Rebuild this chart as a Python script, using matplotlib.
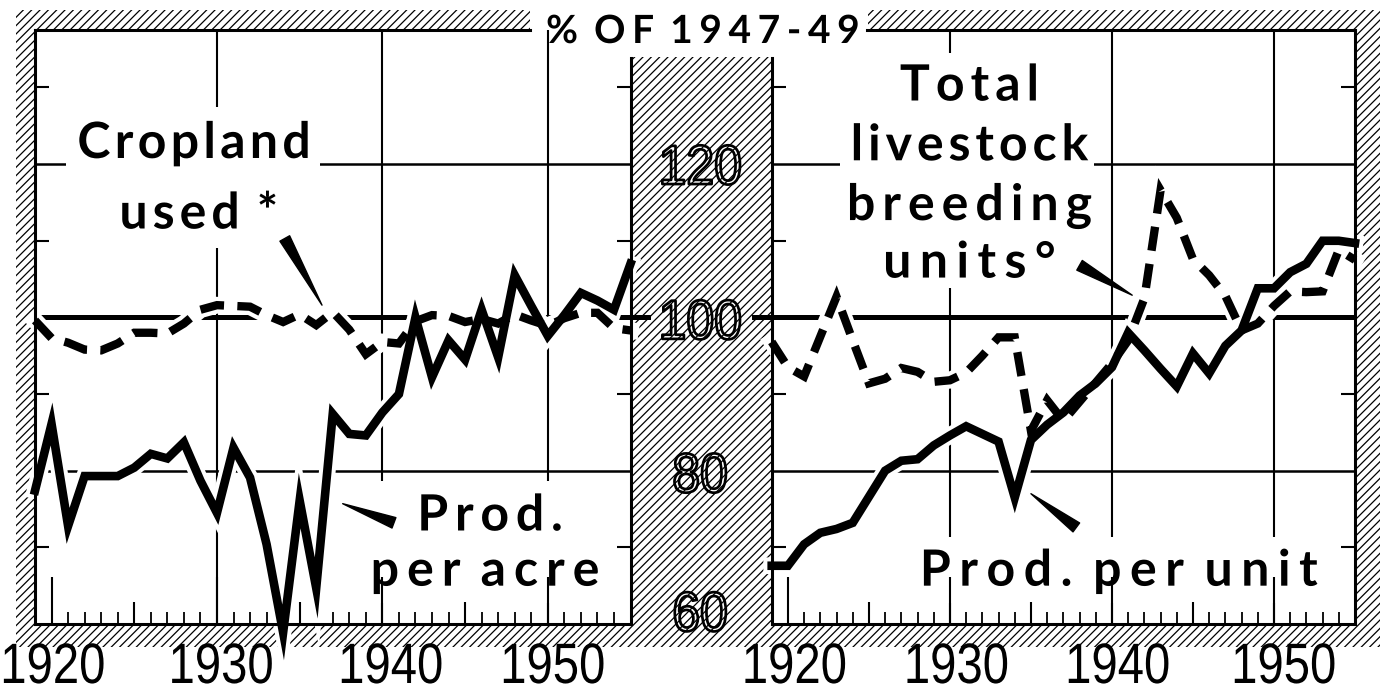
import matplotlib
matplotlib.use("Agg")
import matplotlib.pyplot as plt
import matplotlib.patheffects as pe
import numpy as np
from matplotlib import transforms
from matplotlib.patches import Rectangle
from matplotlib.path import Path

# --- data (% of 1947-49) ---
years = list(range(1919, 1956))
prod_per_acre = [77.4, 86.1, 72.8, 79.3, 79.3, 79.3, 80.4, 82.2, 81.6, 83.7,
                 78.7, 74.5, 83.0, 79.1, 70.4, 58.9, 76.1, 64.7, 87.4, 84.8,
                 84.6, 87.6, 90.0, 100.0, 92.2, 97.0, 94.5, 101.0, 94.8, 105.5,
                 101.5, 97.6, 100.3, 103.2, 102.2, 101.0, 107.0]
cropland_used = [99.6, 97.3, 96.7, 95.8, 95.7, 96.6, 98.0, 98.0, 97.9, 99.2,
                 101.0, 101.6, 101.5, 101.4, 100.3, 99.4, 100.4, 99.0, 100.7, 98.4,
                 95.2, 96.8, 96.6, 99.5, 100.3, 100.2, 99.4, 99.8, 99.2, 100.4,
                 99.6, 98.9, 99.9, 100.6, 100.6, 98.6, 98.3]
prod_per_unit = [67.6, 67.6, 70.4, 71.9, 72.4, 73.2, 76.6, 80.0, 81.3, 81.5,
                 83.3, 84.6, 85.8, 84.8, 83.8, 76.5, 84.0, 86.0, 87.6, 89.8,
                 91.4, 93.5, 98.0, 95.7, 93.3, 91.0, 95.3, 92.7, 96.3, 98.3,
                 103.8, 103.8, 105.9, 107.0, 110.0, 110.0, 109.7]
livestock_units = [96.8, 93.5, 92.3, 97.5, 102.7, 97.0, 91.4, 92.0, 93.4, 92.9,
                   91.6, 91.8, 92.8, 95.0, 97.4, 97.4, 85.2, 89.2, 86.5, 89.0,
                   91.5, 94.0, 97.0, 102.5, 116.6, 113.0, 107.6, 105.5, 102.8, 98.3,
                   99.2, 101.5, 103.4, 103.3, 103.4, 108.8, 107.5]

decade_labels = ["1920", "1930", "1940", "1950"]
decades = [1920, 1930, 1940, 1950]
half_decades = [1925, 1935, 1945]
scale_values = [120, 100, 80, 60]
minor_y = [70, 90, 110, 130]

plt.rcParams["hatch.color"] = "black"
plt.rcParams["hatch.linewidth"] = 0.9

NARROW = ["Liberation Sans", "DejaVu Sans"]
BOLD = ["Lato", "DejaVu Sans"]

W, H = 1382, 696
TOP, BOT = 30, 624
fig = plt.figure(figsize=(W / 100, H / 100), dpi=100)


class Spaced(pe.AbstractPathEffect):
    """Letter spacing / horizontal squeeze for text (track in em)."""

    def __init__(self, track=0.0, sx=1.0, anchor="center", outline=None):
        super().__init__()
        self.track, self.sx, self.anchor, self.outline = track * 100, sx, anchor, outline

    def draw_path(self, renderer, gc, tpath, affine, rgbFace=None):
        verts = np.array(tpath.vertices, dtype=float)
        codes = tpath.codes
        if codes is not None and len(verts):
            starts = list(np.flatnonzero(codes == Path.MOVETO)) + [len(codes)]
            spans = [(starts[i], starts[i + 1]) for i in range(len(starts) - 1)]
            ranges = []
            for a, b in spans:
                xs = verts[a:b][codes[a:b] != Path.CLOSEPOLY, 0]
                ranges.append((xs.min(), xs.max()))
            c0 = 0.0
            if self.anchor == "center":
                c0 = (min(r[0] for r in ranges) + max(r[1] for r in ranges)) / 2
            k, hi = -1, -np.inf
            shift = np.zeros(len(spans))
            for i in sorted(range(len(spans)), key=lambda j: ranges[j][0]):
                lo, h = ranges[i]
                if lo >= hi - 6:
                    k += 1
                    hi = h
                else:
                    hi = max(hi, h)
                shift[i] = k * self.track
            for i, (a, b) in enumerate(spans):
                verts[a:b, 0] += shift[i]
            if self.anchor == "center":
                verts[:, 0] -= k * self.track / 2
            verts[:, 0] = c0 + (verts[:, 0] - c0) * self.sx
            tpath = Path(verts, codes)
        if self.outline:
            gc0 = renderer.new_gc()
            gc0.copy_properties(gc)
            gc0.set_linewidth(renderer.points_to_pixels(self.outline))
            gc0.set_foreground("black")
            renderer.draw_path(gc0, tpath, affine, None)
            gc0.restore()
        else:
            renderer.draw_path(gc, tpath, affine, rgbFace)


def px_rect(x0, y0, x1, y1):
    return [x0 / W, 1 - y1 / H, (x1 - x0) / W, (y1 - y0) / H]


# hatched frame, drawn in pixel coordinates underneath the panels
bg = fig.add_axes([0, 0, 1, 1], zorder=0)
bg.set_xlim(0, W)
bg.set_ylim(H, 0)
bg.axis("off")
for x0, y0, x1, y1 in [(16, 10, 36, 647), (16, 10, 530, 31), (868, 10, 1380, 31),
                       (16, 623, 1380, 647), (629, 57, 773, 647), (1354, 10, 1380, 647)]:
    bg.add_patch(Rectangle((x0, y0), x1 - x0, y1 - y0, facecolor="white",
                           edgecolor="black", hatch="////", linewidth=0))


def panel(x0, x1, solid, dashed, top_from, side, label_x):
    ax = fig.add_axes(px_rect(x0, TOP, x1, BOT), zorder=1)
    ax.set_xlim(1919, 1955)
    ax.set_ylim(60, 137.5)
    for s in ax.spines.values():
        s.set_linewidth(2.2)
    ax.spines["top"].set_bounds(*top_from)
    ax.spines[side].set_bounds(60, 133.8)

    for v, lw in [(80, 1.8), (100, 3.6), (120, 1.8)]:
        ax.axhline(v, color="black", lw=lw, zorder=1)
    for d in decades[1:]:
        ax.axvline(d, color="black", lw=1.5, zorder=1)
    # short extension of the 100 line into the scale strip
    if side == "right":
        ax.axhline(100, xmin=1.0, xmax=1.03, color="black", lw=3.6, clip_on=False)
    else:
        ax.axhline(100, xmin=-0.03, xmax=0.0, color="black", lw=3.6, clip_on=False)

    ax.set_xticks(decades, [""] * len(decades))
    ax.set_xticks(years, minor=True)
    ax.set_yticks(minor_y)
    ax.tick_params(axis="x", which="major", direction="in", length=34, width=1.5)
    ax.tick_params(axis="x", which="minor", direction="in", length=8.5, width=1.3)
    ax.tick_params(axis="y", direction="in", length=10, width=1.5,
                   left=True, right=True, labelleft=False)
    ax.vlines(half_decades, 0, 0.037, transform=ax.get_xaxis_transform(),
              color="black", lw=1.5, zorder=1.5)

    # year labels, condensed
    lab_trans = transforms.blended_transform_factory(ax.transData, fig.transFigure)
    for (lx, ha), s in zip(label_x, decade_labels):
        ax.text(lx, 1 - 683 / H, s, transform=lab_trans, ha=ha, va="baseline",
                fontsize=41, family=NARROW, clip_on=False,
                path_effects=[Spaced(sx=0.83, anchor="left" if ha == "left" else "center")])

    for ys in (solid, dashed):
        ax.plot(years, ys, color="white", lw=12, solid_joinstyle="miter",
                zorder=2, clip_on=False)
    ax.plot(years, dashed, color="black", lw=6.0, linestyle=(0, (2.9, 1.6)),
            dash_capstyle="butt", dash_joinstyle="miter", zorder=3, clip_on=False)
    ax.plot(years, solid, color="black", lw=6.2, solid_joinstyle="miter",
            zorder=3.1, clip_on=False)
    return ax


ax1 = panel(35, 630.5, prod_per_acre, cropland_used, (1919, 1948.9), "right",
            [(1916.9, "left"), (1930.25, "center"), (1940.5, "center"), (1950.3, "center")])
ax2 = panel(771.7, 1355, prod_per_unit, livestock_units, (1924.9, 1955), "left",
            [(1920.4, "center"), (1930.4, "center"), (1940.35, "center"), (1950.6, "center")])


def mask(ax, x0, x1, y0, y1):
    ax.add_patch(Rectangle((x0, y0), x1 - x0, y1 - y0, facecolor="white",
                           edgecolor="none", zorder=1.2))


def label(ax, x, y, s, track):
    ax.text(x, y, s, ha="center", va="baseline", fontsize=36, fontweight="bold",
            family=BOLD, zorder=4, path_effects=[Spaced(track=track)])


mask(ax1, 1920.9, 1936.2, 109.0, 127.4)
label(ax1, 1928.6, 120.8, "Cropland", 0.086)
label(ax1, 1928.9, 111.6, "used *", 0.10)
mask(ax1, 1938.4, 1953.9, 62.7, 78.7)
label(ax1, 1946.5, 72.2, "Prod.", 0.135)
label(ax1, 1946.2, 65.0, "per acre", 0.16)

mask(ax2, 1923.2, 1938.9, 103.8, 134.5)
for yy, s, tr in [(128.3, "Total", 0.12), (120.5, "livestock", 0.098),
                  (112.7, "breeding", 0.14), (105.2, "units°", 0.168)]:
    label(ax2, 1931.2, yy, s, tr)
mask(ax2, 1927.2, 1953.2, 62.7, 71.3)
label(ax2, 1940.4, 65.0, "Prod. per unit", 0.17)

wedge = dict(arrowstyle="wedge,tail_width=0.4,shrink_factor=0.5", color="black",
             shrinkA=0, shrinkB=0, mutation_scale=20)
ax1.annotate("", xy=(1936.35, 101.6), xytext=(1934.1, 110.3), arrowprops=wedge, zorder=4)
ax1.annotate("", xy=(1937.6, 75.7), xytext=(1940.7, 73.2), arrowprops=wedge, zorder=4)
ax2.annotate("", xy=(1941.25, 102.9), xytext=(1938.0, 106.8), arrowprops=wedge, zorder=4)
ax2.annotate("", xy=(1935.0, 77.0), xytext=(1937.8, 72.6), arrowprops=wedge, zorder=4)

# hatched (outlined) scale numbers in the middle strip
strip = transforms.blended_transform_factory(fig.transFigure, ax1.transData)
baseline_shift = {120: -2.6, 100: -2.8, 80: -2.8, 60: -0.9}
for v in scale_values:
    fig.text(700 / W, v + baseline_shift[v], str(v), transform=strip, ha="center",
             va="baseline", fontsize=40, family=NARROW, zorder=5,
             path_effects=[Spaced(sx=0.9, outline=1.4)])

fig.text(703 / W, 1 - 43 / H, "% OF 1947-49", ha="center", va="baseline",
         fontsize=28, fontweight="bold", family=BOLD,
         path_effects=[Spaced(track=0.17)])

fig.savefig("out.png", dpi=100)
